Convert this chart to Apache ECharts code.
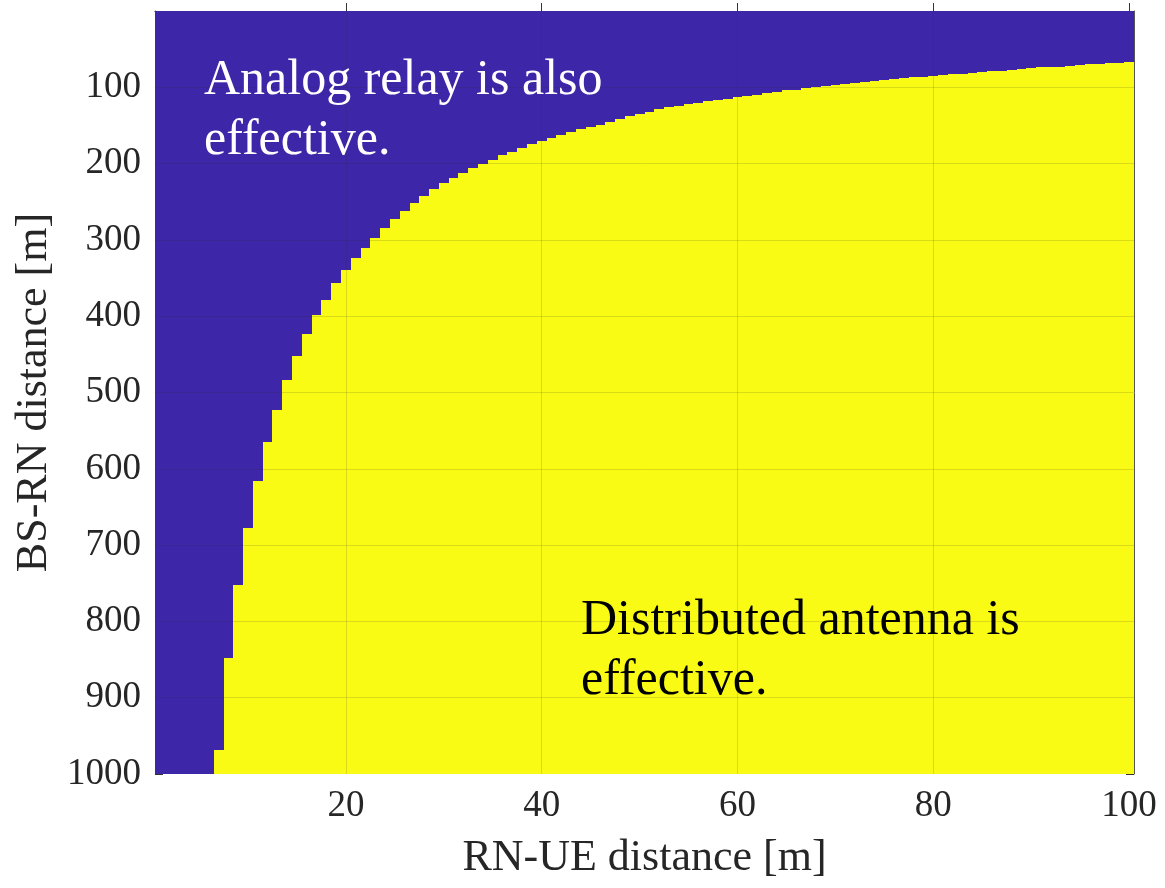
<!DOCTYPE html>
<html>
<head>
<meta charset="utf-8">
<script src="https://cdn.jsdelivr.net/npm/echarts@6/dist/echarts.min.js"></script>
<style>
  html, body { margin: 0; padding: 0; background: #fff; }
  #chart { width: 1165px; height: 888px; }
</style>
</head>
<body>
<div id="chart"></div>
<script>
// RN-UE distance columns 1..100 [m]; BS-RN distance where the yellow region begins (null = all blue)
const boundary = [
  null, null, null, null, null, null, 969, 848, 752, 678,
  616, 565, 523, 484, 452, 423, 398, 379, 357, 339,
  324, 310, 297, 284, 273, 262, 251, 242, 233, 226,
  219, 212, 206, 200, 195, 189, 185, 180, 174, 170,
  166, 162, 159, 155, 152, 149, 146, 142, 138, 135,
  132, 129, 126, 124, 122, 120, 118, 117, 115, 113,
  111, 110, 108, 106, 104, 103, 101, 100, 98, 97,
  96, 94, 93, 92, 90, 89, 88, 87, 86, 85,
  84, 83, 82, 81, 80, 79, 78, 77, 76, 75,
  74, 73, 73, 72, 71, 70, 69, 68, 68, 67
];
const xTicks = [20, 40, 60, 80, 100];
const yTicks = [100, 200, 300, 400, 500, 600, 700, 800, 900];

const BLUE = '#3e26a8';
const YELLOW = '#f9fb15';
const FONT = 'Liberation Serif';
const yMin = 0, yMax = 1000;

const cells = boundary.map((t, i) => [i + 1, t == null ? yMax : t]);

const chart = echarts.init(document.getElementById('chart'));

// one image column: blue above the boundary, yellow below (pixel-snapped so no seams)
function renderCell(params, api) {
  const x = api.value(0);
  const t = api.value(1);
  const a = api.coord([x - 0.5, yMin]);
  const b = api.coord([x + 0.5, t]);
  const c = api.coord([x + 0.5, yMax]);
  const x0 = Math.round(a[0]), x1 = Math.round(b[0]);
  const y0 = Math.round(a[1]), yb = Math.round(b[1]), y1 = Math.round(c[1]);
  return {
    type: 'group',
    children: [
      { type: 'rect', shape: { x: x0, y: y0, width: x1 - x0, height: yb - y0 }, style: { fill: BLUE } },
      { type: 'rect', shape: { x: x0, y: yb, width: x1 - x0, height: y1 - yb }, style: { fill: YELLOW } }
    ]
  };
}

const tickStyle = { show: true, inside: true, length: 8, lineStyle: { color: '#333', width: 1 } };
const lineStyle = { show: true, lineStyle: { color: '#555', width: 1 } };
const labelStyle = { fontFamily: FONT, fontSize: 37, color: '#262626', margin: 14 };
const nameStyle = { fontFamily: FONT, fontSize: 44, color: '#262626' };

const gridLines = xTicks.slice(0, -1).map(v => ({ xAxis: v }))
  .concat(yTicks.map(v => ({ yAxis: v })));

const option = {
  animation: false,
  grid: { left: 155, right: 31, top: 11, bottom: 114, show: true, backgroundColor: BLUE, borderWidth: 0 },
  xAxis: [{
    type: 'value', min: 0.5, max: 100.5, position: 'bottom',
    name: 'RN-UE distance [m]', nameLocation: 'middle', nameGap: 62,
    nameTextStyle: nameStyle,
    axisLine: lineStyle,
    axisTick: Object.assign({ customValues: xTicks }, tickStyle),
    axisLabel: Object.assign({ customValues: xTicks }, labelStyle),
    splitLine: { show: false }
  }, {
    type: 'value', min: 0.5, max: 100.5, position: 'top',
    axisLine: lineStyle,
    axisTick: Object.assign({ customValues: xTicks }, tickStyle),
    axisLabel: { show: false },
    splitLine: { show: false }
  }],
  yAxis: [{
    type: 'value', min: yMin, max: yMax, interval: 100, inverse: true, position: 'left',
    name: 'BS-RN distance [m]', nameLocation: 'middle', nameGap: 94,
    nameTextStyle: nameStyle,
    axisLine: lineStyle,
    axisTick: tickStyle,
    axisLabel: Object.assign({ showMinLabel: false, formatter: v => String(v) }, labelStyle),
    splitLine: { show: false }
  }, {
    type: 'value', min: yMin, max: yMax, interval: 100, inverse: true, position: 'right',
    axisLine: lineStyle,
    axisTick: tickStyle,
    axisLabel: { show: false },
    splitLine: { show: false }
  }],
  series: [{
    type: 'custom',
    renderItem: renderCell,
    data: cells,
    xAxisIndex: 0,
    yAxisIndex: 0,
    silent: true,
    markLine: {
      silent: true,
      symbol: 'none',
      label: { show: false },
      lineStyle: { color: 'rgba(38,38,38,0.15)', width: 1, type: 'solid' },
      data: gridLines
    }
  }],
  graphic: [{
    type: 'text', left: 204, top: 51, z: 100,
    style: { text: 'Analog relay is also\neffective.', fill: '#fff', font: '50px "Liberation Serif"', lineHeight: 60 }
  }, {
    type: 'text', left: 581, top: 591, z: 100,
    style: { text: 'Distributed antenna is\neffective.', fill: '#000', font: '50px "Liberation Serif"', lineHeight: 60 }
  }]
};

chart.setOption(option);
</script>
</body>
</html>
